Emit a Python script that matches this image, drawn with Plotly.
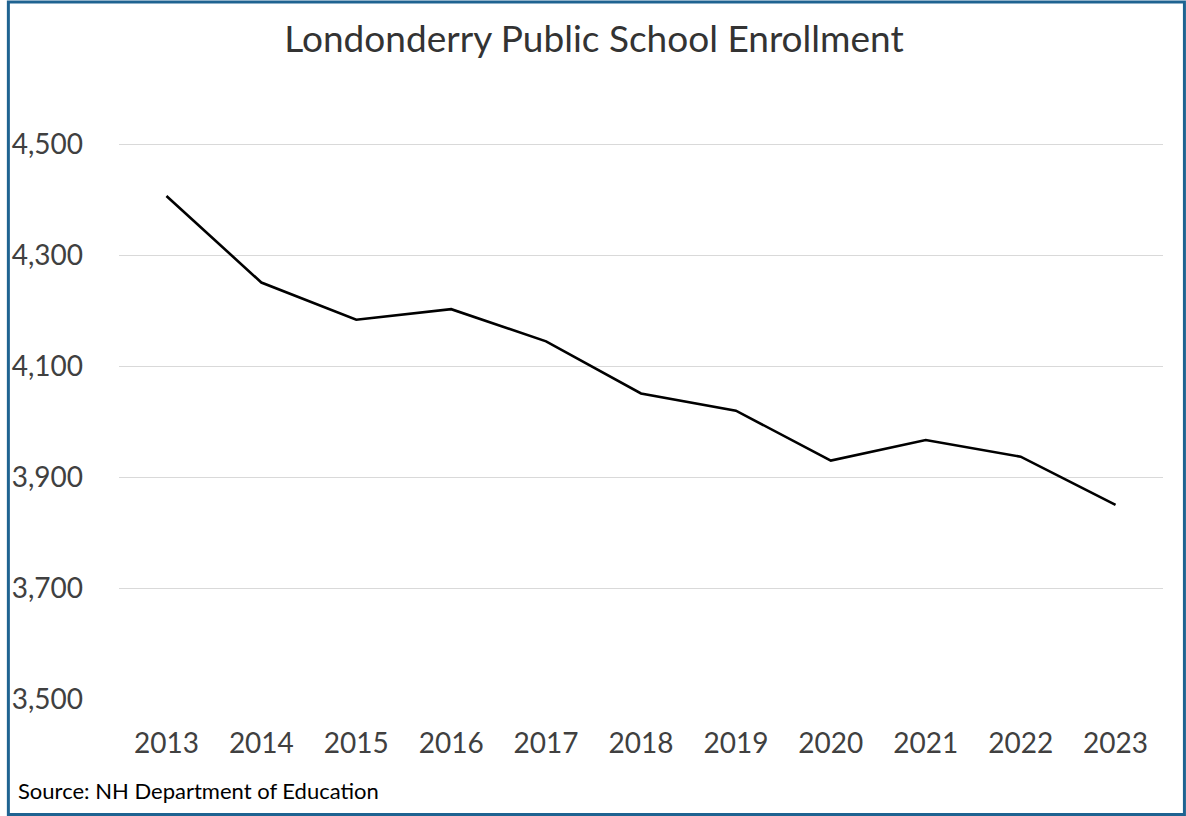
import plotly.graph_objects as go

# Enrollment by school year
years = ["2013", "2014", "2015", "2016", "2017", "2018", "2019", "2020", "2021", "2022", "2023"]
enrollment = [4407, 4251, 4184, 4203, 4145, 4051, 4020, 3930, 3967, 3937, 3850]

y_ticks = [3500, 3700, 3900, 4100, 4300, 4500]
y_tick_text = ["3,500", "3,700", "3,900", "4,100", "4,300", "4,500"]

W, H = 1186, 816
ML, MR, MT, MB = 115.5, 23, 88.6, 117
PW, PH = W - ML - MR, H - MT - MB


def px_x(px):
    return (px - ML) / PW


def px_y(py):
    return (H - MB - py) / PH


FONT = "Lato"
TEXT = "#404040"

fig = go.Figure(
    go.Scatter(
        x=years,
        y=enrollment,
        mode="lines",
        line=dict(color="#000000", width=2.6),
        hoverinfo="x+y",
    )
)

fig.update_layout(
    width=W,
    height=H,
    margin=dict(l=ML, r=MR, t=MT, b=MB, pad=0),
    paper_bgcolor="white",
    plot_bgcolor="white",
    showlegend=False,
    font=dict(family=FONT, color=TEXT),
    title=dict(
        text="Londonderry Public School Enrollment",
        x=594 / W,
        xref="container",
        xanchor="center",
        y=1 - 39 / H,
        yref="container",
        yanchor="middle",
        font=dict(family=FONT, size=37, color="#333333"),
    ),
    xaxis=dict(
        type="category",
        range=[-0.5, len(years) - 0.5],
        showgrid=False,
        zeroline=False,
        showline=False,
        ticks="",
        tickfont=dict(size=28, color=TEXT),
        ticklabelstandoff=25,
        fixedrange=True,
    ),
    yaxis=dict(
        range=[3500, 4600],
        tickvals=y_ticks,
        ticktext=y_tick_text,
        showgrid=True,
        gridcolor="#D9D9D9",
        gridwidth=1.3,
        zeroline=False,
        showline=False,
        ticks="",
        tickfont=dict(size=28, color=TEXT),
        ticklabelstandoff=35,
        fixedrange=True,
    ),
    annotations=[
        dict(
            text="Source: NH Department of Education",
            xref="paper",
            yref="paper",
            x=px_x(12),
            y=px_y(791),
            xanchor="left",
            yanchor="middle",
            showarrow=False,
            font=dict(family=FONT, size=22, color="#000000"),
        )
    ],
    shapes=[
        dict(
            type="rect",
            xref="paper",
            yref="paper",
            x0=px_x(4.5),
            x1=px_x(1184.5),
            y0=px_y(814.5),
            y1=px_y(1.5),
            line=dict(color="#1F6391", width=3),
            fillcolor="rgba(0,0,0,0)",
            layer="above",
        )
    ],
)

fig.write_html("out.html")
